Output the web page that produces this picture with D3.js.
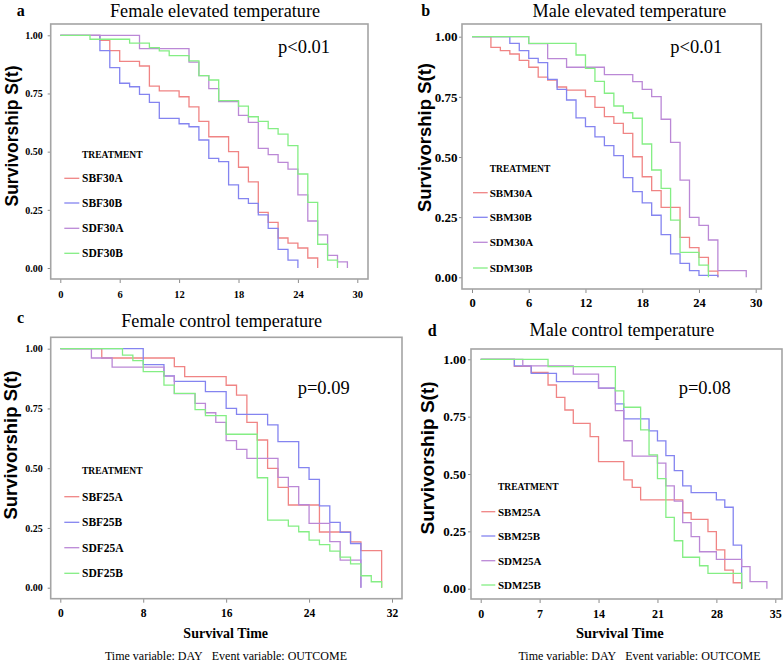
<!DOCTYPE html>
<html><head><meta charset="utf-8">
<script src="https://cdn.jsdelivr.net/npm/d3@7"></script>
<style>
html,body{margin:0;padding:0;background:#fff;}
svg{display:block;}
text{font-family:"Liberation Serif","Times New Roman",serif;fill:#000;}
</style></head>
<body><svg id="c" width="784" height="663"></svg>
<script>
// ---------- DATA ----------
// Panel a: Female elevated temperature  [day, S(t)]
const SBF30A = [[0,1],[4,0.978],[5,0.934],[6,0.888],[8,0.868],[9,0.782],[10,0.761],[12,0.736],[13,0.692],[14,0.630],[15,0.564],[17,0.500],[18,0.433],[19,0.370],[20,0.239],[21,0.196],[22,0.129],[23,0.107],[24,0.086],[25,0.043],[26,0]];
const SBF30B = [[0,1],[4,0.934],[5,0.861],[6,0.794],[7,0.779],[8,0.746],[9,0.712],[10,0.643],[12,0.620],[13,0.607],[14,0.550],[15,0.471],[16,0.457],[17,0.357],[18,0.298],[19,0.278],[20,0.228],[21,0.170],[22,0.080],[23,0.034],[24,0]];
const SDF30A = [[0,1],[8,0.943],[13,0.885],[14,0.827],[15,0.771],[16,0.715],[18,0.656],[19,0.626],[20,0.514],[21,0.487],[22,0.454],[23,0.425],[24,0.314],[25,0.202],[26,0.142],[27,0.054],[28,0.026],[29,0]];
const SDF30B = [[0,1],[3,0.983],[7,0.966],[9,0.947],[10,0.933],[11,0.913],[13,0.890],[14,0.827],[15,0.808],[16,0.719],[18,0.696],[19,0.650],[20,0.630],[21,0.599],[22,0.575],[23,0.526],[24,0.404],[25,0.282],[26,0.102],[27,0.034],[28,0]];
// Panel b: Male elevated temperature
const SBM30A = [[0,1],[2,0.956],[3,0.942],[4,0.928],[5,0.902],[6,0.873],[7,0.832],[8,0.820],[9,0.791],[10,0.778],[12,0.751],[13,0.706],[14,0.668],[15,0.640],[16,0.598],[17,0.501],[18,0.418],[19,0.360],[20,0.291],[22,0.166],[23,0.123],[24,0.083],[25,0.026],[26,0]];
const SBM30B = [[0,1],[4,0.972],[5,0.942],[6,0.910],[7,0.892],[8,0.823],[9,0.781],[10,0.737],[11,0.663],[12,0.626],[13,0.584],[14,0.547],[15,0.506],[16,0.414],[17,0.356],[18,0.309],[19,0.258],[20,0.177],[21,0.097],[22,0.058],[23,0.028],[24,0.008],[26,0]];
const SDM30A = [[0,1],[6,0.971],[8,0.909],[10,0.873],[14,0.842],[17,0.813],[18,0.781],[19,0.751],[20,0.657],[21,0.561],[22,0.404],[23,0.249],[24,0.216],[25,0.155],[26,0.028],[29,0]];
const SDM30B = [[0,1],[6,0.972],[11,0.924],[12,0.868],[13,0.814],[14,0.765],[15,0.712],[16,0.684],[17,0.661],[18,0.554],[19,0.446],[20,0.370],[21,0.238],[22,0.104],[24,0.051],[25,0]];
// Panel c: Female control temperature
const SBF25A = [[0,1],[4,0.961],[11,0.925],[12,0.883],[16,0.847],[17,0.806],[18,0.692],[19,0.618],[20,0.499],[21,0.420],[22,0.346],[25,0.233],[28,0.192],[29,0.155],[31,0]];
const SBF25B = [[0,1],[8,0.933],[10,0.886],[11,0.863],[14,0.820],[16,0.750],[17,0.725],[20,0.681],[21,0.611],[23,0.502],[24,0.453],[25,0.342],[26,0.273],[27,0.232],[28,0.185],[29,0]];
const SDF25A = [[0,1],[3,0.961],[5,0.923],[10,0.885],[11,0.812],[13,0.771],[14,0.732],[15,0.692],[16,0.615],[17,0.579],[18,0.541],[21,0.462],[22,0.423],[23,0.347],[24,0.269],[26,0.193],[27,0.115],[29,0]];
const SDF25B = [[0,1],[6,0.973],[7,0.950],[8,0.904],[10,0.848],[11,0.813],[13,0.745],[14,0.720],[16,0.642],[19,0.460],[20,0.283],[22,0.258],[23,0.234],[24,0.199],[25,0.180],[26,0.153],[27,0.128],[28,0.100],[29,0.050],[30,0.025],[31,0]];
// Panel d: Male control temperature
const SBM25A = [[0,1],[4,0.969],[6,0.943],[8,0.888],[9,0.834],[10,0.779],[11,0.721],[13,0.663],[14,0.554],[17,0.474],[18,0.442],[19,0.387],[24,0.331],[25,0.302],[27,0.249],[28,0.169],[29,0.081],[30,0.026],[31,0]];
const SBM25B = [[0,1],[4,0.971],[6,0.939],[9,0.903],[14,0.874],[16,0.806],[17,0.740],[20,0.688],[21,0.644],[22,0.580],[23,0.515],[24,0.448],[25,0.419],[28,0.387],[29,0.355],[30,0.190],[31,0]];
const SDM25A = [[0,1],[5,0.971],[11,0.935],[14,0.874],[16,0.776],[17,0.645],[18,0.578],[21,0.547],[22,0.448],[23,0.382],[24,0.288],[25,0.227],[26,0.161],[28,0.128],[31,0.096],[32,0.031],[34,0]];
const SDM25B = [[0,1],[8,0.968],[16,0.862],[17,0.791],[19,0.692],[20,0.583],[21,0.480],[22,0.311],[23,0.209],[24,0.137],[26,0.100],[27,0.067],[31,0]];

const namesA = ["SBF30A","SBF30B","SDF30A","SDF30B"];
const namesB = ["SBM30A","SBM30B","SDM30A","SDM30B"];
const namesC = ["SBF25A","SBF25B","SDF25A","SDF25B"];
const namesD = ["SBM25A","SBM25B","SDM25A","SDM25B"];
const titles = ["Female elevated temperature","Male elevated temperature","Female control temperature","Male control temperature"];
const letters = ["a","b","c","d"];
const pLabels = ["p<0.01","p<0.01","p=0.09","p=0.08"];
const xTicksA = [0,6,12,18,24,30];
const xTicksB = [0,6,12,18,24,30];
const xTicksC = [0,8,16,24,32];
const xTicksD = [0,7,14,21,28,35];
const yTicks = [0,0.25,0.5,0.75,1];
const colors = ["#f08484","#8484f0","#bb88d6","#84ee84"];

// ---------- LAYOUT ----------
const panels = [
 {series:[SBF30A,SBF30B,SDF30A,SDF30B], names:namesA, xt:xTicksA, xmax:30,
  box:[50.7,24,368,279], xr:[60.3,357.3], yr:[268,35.3],
  letter:[16.7,15.5], title:[215,16.5], p:[278,53.3], ylab:[12,136,17.5],
  yfs:10, xfs:10.5, ypad:5, xpad:7.4,
  leg:{lx:64.3,lx2:79.3,tx:82,ty:154.3,rows:[178.3,203,228.3,253.3],fs:11.5,tfs:9.5}},
 {series:[SBM30A,SBM30B,SDM30A,SDM30B], names:namesB, xt:xTicksB, xmax:30,
  box:[462,24,761.3,289], xr:[472,755.7], yr:[277.3,36.7],
  letter:[421.3,15.5], title:[629.5,16.5], p:[670.3,53.3], ylab:[424.5,137.5,18.5],
  yfs:13, xfs:12.5, ypad:1.5, xpad:5.6,
  leg:{lx:473,lx2:487.7,tx:489.7,ty:169,rows:[192.7,217.3,242.3,268],fs:11,tfs:9.5}},
 {series:[SBF25A,SBF25B,SDF25A,SDF25B], names:namesC, xt:xTicksC, xmax:32,
  box:[50.7,337.3,402,598.7], xr:[60.3,392], yr:[587.7,348.7],
  letter:[17,323.3], title:[221.7,326.7], p:[297.7,394], ylab:[10,445,18.5],
  yfs:10, xfs:11.5, ypad:5, xpad:6.5,
  leg:{lx:64.3,lx2:79.3,tx:82,ty:471,rows:[496.7,522.3,547.7,573.3],fs:11.5,tfs:9.5},
  foot:[225.7,638.3,226,659.5], ffs:14},
 {series:[SBM25A,SBM25B,SDM25A,SDM25B], names:namesD, xt:xTicksD, xmax:35,
  box:[471,349,782,599], xr:[480.7,775.3], yr:[588.7,359.3],
  letter:[427.7,336], title:[622,336], p:[678.7,394], ylab:[427.8,458,19],
  yfs:13, xfs:12, ypad:2, xpad:6.5,
  leg:{lx:481.3,lx2:495.3,tx:498,ty:486.7,rows:[511.7,536,560.7,585],fs:11,tfs:9.5},
  foot:[619.8,638.3,639.5,659.5], ffs:14.5}
];

const svg = d3.select("#c");
const footText = "Time variable: DAY\u00a0\u00a0\u00a0Event variable: OUTCOME";

panels.forEach((P,i)=>{
  const g = svg.append("g");
  const x = d3.scaleLinear().domain([0,P.xmax]).range(P.xr);
  const y = d3.scaleLinear().domain([0,1]).range(P.yr);
  const [bx0,by0,bx1,by1] = P.box;

  // axes
  const ya = d3.axisLeft(y).tickValues(yTicks).tickFormat(d3.format(".2f")).tickSize(3).tickPadding(P.ypad);
  const yg = g.append("g").attr("transform",`translate(${bx0},0)`).call(ya);
  const xa = d3.axisBottom(x).tickValues(P.xt).tickFormat(d3.format("d")).tickSize(4).tickPadding(P.xpad);
  const xg = g.append("g").attr("transform",`translate(0,${by1})`).call(xa);
  [yg,xg].forEach(ax=>{
    ax.select(".domain").remove();
    ax.selectAll(".tick line").attr("stroke","#8c8c8c").attr("stroke-width",1);
    ax.selectAll(".tick text").attr("font-family","'Liberation Serif',serif").attr("font-weight","bold").attr("fill","#000");
  });
  yg.selectAll(".tick text").attr("font-size",P.yfs);
  xg.selectAll(".tick text").attr("font-size",P.xfs);

  // frame
  g.append("rect").attr("x",bx0).attr("y",by0).attr("width",bx1-bx0).attr("height",by1-by0)
    .attr("fill","none").attr("stroke","#a4a4a4").attr("stroke-width",1.6);

  // curves
  const line = d3.line().x(d=>x(d[0])).y(d=>y(d[1])).curve(d3.curveStepAfter);
  P.series.forEach((s,k)=>{
    g.append("path").datum(s).attr("d",line).attr("fill","none")
      .attr("stroke",colors[k]).attr("stroke-width",1.3);
  });

  // legend
  const L = P.leg;
  g.append("text").attr("x",L.tx).attr("y",L.ty).attr("dy","0.35em").attr("font-size",L.tfs)
    .attr("font-weight","bold").text("TREATMENT");
  P.names.forEach((n,k)=>{
    g.append("line").attr("x1",L.lx).attr("x2",L.lx2).attr("y1",L.rows[k]).attr("y2",L.rows[k])
      .attr("stroke",colors[k]).attr("stroke-width",1.3);
    g.append("text").attr("x",L.tx).attr("y",L.rows[k]).attr("dy","0.35em").attr("font-size",L.fs)
      .attr("font-weight","bold").text(n);
  });

  // texts
  g.append("text").attr("x",P.letter[0]).attr("y",P.letter[1]).attr("font-size",16).attr("font-weight","bold").text(letters[i]);
  g.append("text").attr("x",P.title[0]).attr("y",P.title[1]).attr("text-anchor","middle").attr("font-size",18.2).text(titles[i]);
  g.append("text").attr("x",P.p[0]).attr("y",P.p[1]).attr("font-size",18.5).text(pLabels[i]);
  g.append("text").attr("transform",`translate(${P.ylab[0]},${P.ylab[1]}) rotate(-90)`)
    .attr("text-anchor","middle").attr("dominant-baseline","central")
    .style("font-family","'Liberation Sans',Arial,sans-serif").attr("font-weight","bold").attr("font-size",P.ylab[2])
    .text("Survivorship S(t)");
  if (P.foot){
    g.append("text").attr("x",P.foot[0]).attr("y",P.foot[1]).attr("text-anchor","middle")
      .attr("font-size",P.ffs).attr("font-weight","bold").text("Survival Time");
    g.append("text").attr("x",P.foot[2]).attr("y",P.foot[3]).attr("text-anchor","middle")
      .attr("font-size",12).text(footText);
  }
});
</script></body></html>
